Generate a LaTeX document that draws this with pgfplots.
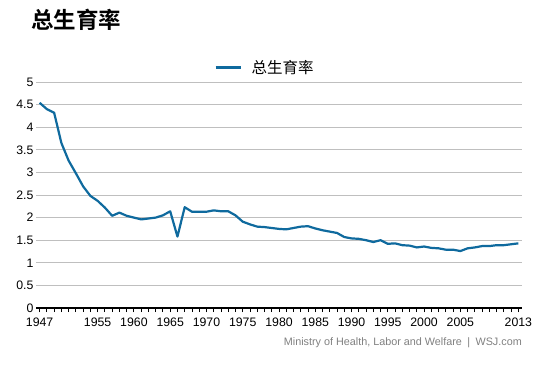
\documentclass[border=0pt]{standalone}
\usepackage{pgfplots}
\pgfplotsset{compat=1.18}
\usepackage{fontspec}
\setmainfont{Liberation Sans}
\newfontfamily\cjk{Noto Sans CJK SC}
\newfontfamily\cjkbold{Noto Sans CJK SC Bold}
\definecolor{lineblue}{HTML}{0F6A9E}
\begin{document}
\begin{tikzpicture}
\path[use as bounding box] (0pt,0pt) rectangle (553pt,369pt);
\node[anchor=west, inner sep=0pt] at (31pt,349pt) {\cjkbold\fontsize{22.5}{26}\selectfont 总生育率};
\begin{axis}[
  at={(36pt,61pt)}, anchor=south west,
  scale only axis, width=486pt, height=226pt,
  xmin=1946.5, xmax=2013.5, ymin=0, ymax=5,
  axis x line*=bottom, axis y line*=left,
  x axis line style={black, line width=1.6pt, -},
  y axis line style={draw=none},
  ytick={0,0.5,...,5},
  yticklabels={0,0.5,1,1.5,2,2.5,3,3.5,4,4.5,5},
  ytick style={draw=none},
  ymajorgrids, grid style={gray!50, line width=0.8pt},
  xtick={1947,1955,1960,1965,1970,1975,1980,1985,1990,1995,2000,2005,2013},
  xticklabels={1947,1955,1960,1965,1970,1975,1980,1985,1990,1995,2000,2005,2013},
  minor xtick={1947,1948,...,2013},
  xtick align=outside,
  major tick length=4pt, minor tick length=4pt,
  xtick style={black, line width=0.9pt},
  minor x tick style={black, line width=0.9pt},
  tick label style={font=\fontsize{12.3}{14}\selectfont, text=black},
  yticklabel style={xshift=1pt},
  xticklabel style={yshift=-2pt},
  /pgf/number format/assume math mode=true,
  legend style={at={(0.5,1)}, anchor=south, xshift=-14pt, yshift=3pt, draw=none, fill=none,
    font=\cjk\fontsize{15.5}{17}\selectfont},
  legend image code/.code={\draw[#1, line width=2.4pt] (0pt,0pt) -- (25pt,0pt); \path (33pt,0pt);},
  clip=false,
]
\addplot[lineblue, line width=2.2pt, line join=round] coordinates {
(1947,4.54)(1948,4.40)(1949,4.32)(1950,3.65)(1951,3.26)(1952,2.98)(1953,2.69)(1954,2.48)
(1955,2.37)(1956,2.22)(1957,2.04)(1958,2.11)(1959,2.04)(1960,2.00)(1961,1.96)(1962,1.98)
(1963,2.00)(1964,2.05)(1965,2.14)(1966,1.58)(1967,2.23)(1968,2.13)(1969,2.13)(1970,2.13)
(1971,2.16)(1972,2.14)(1973,2.14)(1974,2.05)(1975,1.91)(1976,1.85)(1977,1.80)(1978,1.79)
(1979,1.77)(1980,1.75)(1981,1.74)(1982,1.77)(1983,1.80)(1984,1.81)(1985,1.76)(1986,1.72)
(1987,1.69)(1988,1.66)(1989,1.57)(1990,1.54)(1991,1.53)(1992,1.50)(1993,1.46)(1994,1.50)
(1995,1.42)(1996,1.43)(1997,1.39)(1998,1.38)(1999,1.34)(2000,1.36)(2001,1.33)(2002,1.32)
(2003,1.29)(2004,1.29)(2005,1.26)(2006,1.32)(2007,1.34)(2008,1.37)(2009,1.37)(2010,1.39)
(2011,1.39)(2012,1.41)(2013,1.43)
};
\addlegendentry{总生育率}
\end{axis}
\node[anchor=east, inner sep=0pt, text=gray] at (522pt,26pt) {\fontsize{10.8}{12}\selectfont Ministry of Health, Labor and Welfare\enspace|\enspace WSJ.com};
\end{tikzpicture}
\end{document}
